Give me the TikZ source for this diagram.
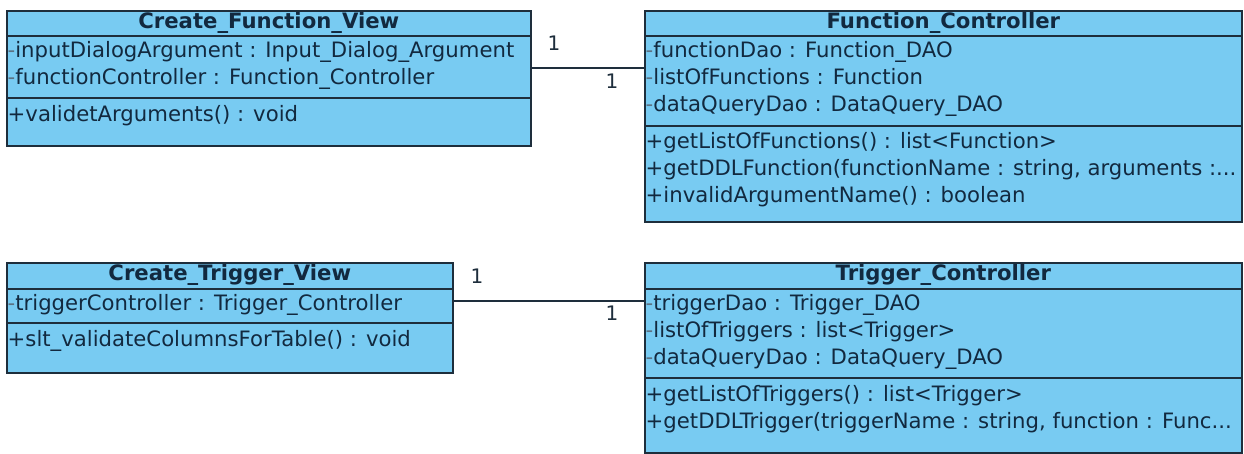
\documentclass[tikz,border=0pt]{standalone}
\usepackage{fontspec}
\setmainfont{DejaVu Sans}
\definecolor{clsfill}{HTML}{78CBF2}
\definecolor{linec}{HTML}{1E2E3C}
\definecolor{txtc}{HTML}{12293F}
\definecolor{dashc}{HTML}{5C7284}
\newcommand{\priv}{{\color{dashc}-}}
\tikzset{
  cls/.style={draw=linec, line width=1.6pt, fill=clsfill, inner sep=0pt,
              anchor=north west},
  sep/.style={draw=linec, line width=1.6pt},
  member/.style={anchor=west, inner xsep=1.5pt, inner ysep=0pt, text=txtc,
                 font=\fontsize{21.2}{26}\selectfont, text height=15pt, text depth=4pt},
  title/.style={anchor=center, inner sep=0pt, text=txtc,
                font=\bfseries\fontsize{21.2}{26}\selectfont, text height=15pt, text depth=4pt},
  assoc/.style={draw=linec, line width=1.4pt},
  mult/.style={anchor=center, inner sep=0pt, text=linec,
               font=\fontsize{20}{24}\selectfont}
}
\begin{document}
\begin{tikzpicture}[x=1pt, y=-1pt]
\fill[white] (0,0) rectangle (1244,454);
\useasboundingbox (0,0) rectangle (1244,454);

% Create_Function_View
\node[cls, minimum width=524pt, minimum height=135pt] (cfv) at (6,10) {};
\draw[sep] (cfv.west |- 0,36) -- (cfv.east |- 0,36);
\draw[sep] (cfv.west |- 0,98) -- (cfv.east |- 0,98);
\node[title] (cfvT) at (cfv.north |- 0,23) {Create\_Function\_View};
\node[member] (cfvA1) at (cfv.west |- 0,52) {\priv inputDialogArgument : Input\_Dialog\_Argument};
\node[member] (cfvA2) at (cfv.west |- 0,79) {\priv functionController : Function\_Controller};
\node[member] (cfvM1) at (cfv.west |- 0,116) {+validetArguments() : void};

% Function_Controller
\node[cls, minimum width=597pt, minimum height=211pt] (fc) at (644,10) {};
\draw[sep] (fc.west |- 0,36) -- (fc.east |- 0,36);
\draw[sep] (fc.west |- 0,126) -- (fc.east |- 0,126);
\node[title] (fcT) at (fc.north |- 0,23) {Function\_Controller};
\node[member] (fcA1) at (fc.west |- 0,52) {\priv functionDao : Function\_DAO};
\node[member] (fcA2) at (fc.west |- 0,79) {\priv listOfFunctions : Function};
\node[member] (fcA3) at (fc.west |- 0,106) {\priv dataQueryDao : DataQuery\_DAO};
\node[member] (fcM1) at (fc.west |- 0,143) {+getListOfFunctions() : list<Function>};
\node[member] (fcM2) at (fc.west |- 0,170) {+getDDLFunction(functionName : string, arguments :...};
\node[member] (fcM3) at (fc.west |- 0,197) {+invalidArgumentName() : boolean};

% Create_Trigger_View
\node[cls, minimum width=446pt, minimum height=110pt] (ctv) at (6,262) {};
\draw[sep] (ctv.west |- 0,289) -- (ctv.east |- 0,289);
\draw[sep] (ctv.west |- 0,323) -- (ctv.east |- 0,323);
\node[title] (ctvT) at (ctv.north |- 0,275) {Create\_Trigger\_View};
\node[member] (ctvA1) at (ctv.west |- 0,305) {\priv triggerController : Trigger\_Controller};
\node[member] (ctvM1) at (ctv.west |- 0,341) {+slt\_validateColumnsForTable() : void};

% Trigger_Controller
\node[cls, minimum width=597pt, minimum height=190pt] (tc) at (644,262) {};
\draw[sep] (tc.west |- 0,289) -- (tc.east |- 0,289);
\draw[sep] (tc.west |- 0,378) -- (tc.east |- 0,378);
\node[title] (tcT) at (tc.north |- 0,275) {Trigger\_Controller};
\node[member] (tcA1) at (tc.west |- 0,305) {\priv triggerDao : Trigger\_DAO};
\node[member] (tcA2) at (tc.west |- 0,332) {\priv listOfTriggers : list<Trigger>};
\node[member] (tcA3) at (tc.west |- 0,359) {\priv dataQueryDao : DataQuery\_DAO};
\node[member] (tcM1) at (tc.west |- 0,396) {+getListOfTriggers() : list<Trigger>};
\node[member] (tcM2) at (tc.west |- 0,423) {+getDDLTrigger(triggerName : string, function : Func...};

% associations with multiplicities
\draw[assoc] (cfv.east |- 0,68) -- (fc.west |- 0,68);
\node[mult] (m1) at (554,43) {1};
\node[mult] (m2) at (612,81) {1};
\draw[assoc] (ctv.east |- 0,301) -- (tc.west |- 0,301);
\node[mult] (m3) at (477,276) {1};
\node[mult] (m4) at (612,313) {1};
\end{tikzpicture}
\end{document}
